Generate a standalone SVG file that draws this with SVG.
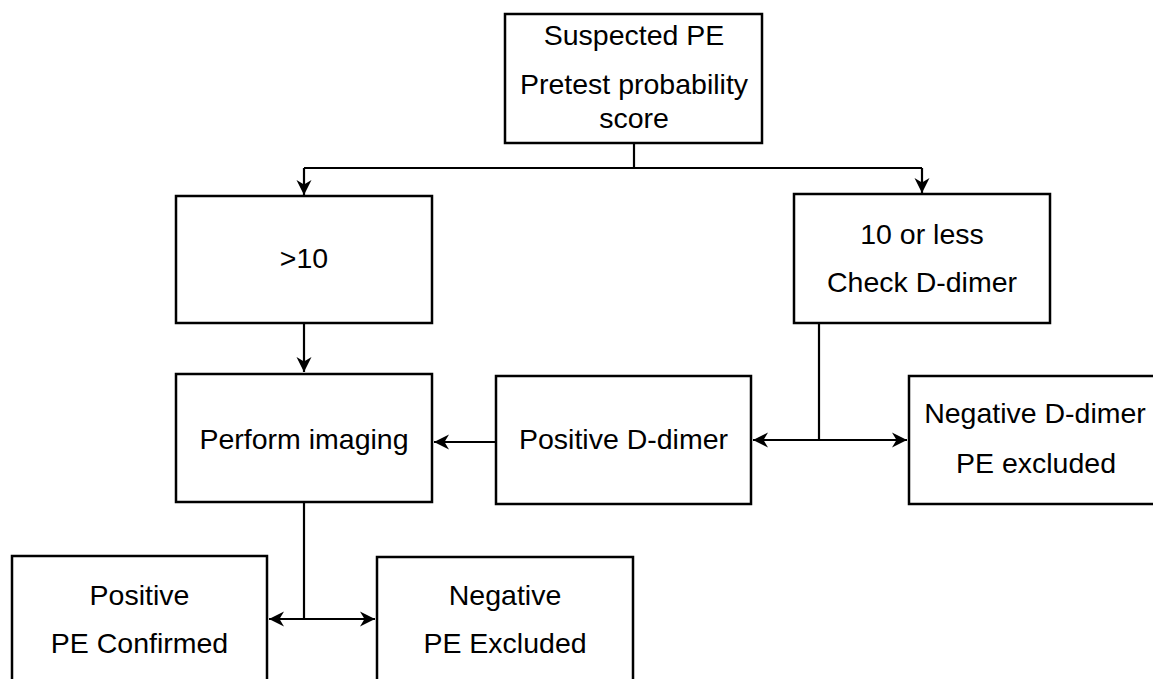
<svg xmlns="http://www.w3.org/2000/svg" width="1153" height="679" viewBox="0 0 1153 679">
<style>
  .box { fill: #ffffff; stroke: #000000; stroke-width: 2.5; }
  .lbl { font-family: "Liberation Sans", Arial, sans-serif; font-size: 28.5px; fill: #000000; text-anchor: middle; }
  .con { fill: none; stroke: #000000; stroke-width: 2.2; }
</style>
<defs>
  <marker id="arr" markerUnits="userSpaceOnUse" markerWidth="17" markerHeight="16" refX="15" refY="7.5" orient="auto" viewBox="0 0 17 15">
    <path d="M0,0 L15,7.5 L0,15 L4.5,7.5 Z" fill="#000000"/>
  </marker>
</defs>
<rect width="1153" height="679" fill="#ffffff"/>

<g id="connectors">
  <path class="con" d="M634,143 V168"/>
  <path class="con" d="M304,168 H922"/>
  <path class="con" d="M304,168 V195" marker-end="url(#arr)"/>
  <path class="con" d="M922,168 V193" marker-end="url(#arr)"/>
  <path class="con" d="M304,323 V372" marker-end="url(#arr)"/>
  <path class="con" d="M819,323 V440"/>
  <path class="con" d="M819,440 H753" marker-end="url(#arr)"/>
  <path class="con" d="M819,440 H907" marker-end="url(#arr)"/>
  <path class="con" d="M496,442 H434" marker-end="url(#arr)"/>
  <path class="con" d="M304,502 V619"/>
  <path class="con" d="M304,619 H269" marker-end="url(#arr)"/>
  <path class="con" d="M304,619 H375" marker-end="url(#arr)"/>
</g>

<g id="node-suspected">
  <rect class="box" x="505" y="14" width="257" height="129"/>
  <text class="lbl" x="634" y="45">Suspected PE</text>
  <text class="lbl" x="634" y="94">Pretest probability</text>
  <text class="lbl" x="634" y="128">score</text>
</g>

<g id="node-gt10">
  <rect class="box" x="176" y="196" width="256" height="127"/>
  <text class="lbl" x="304" y="268">&gt;10</text>
</g>

<g id="node-le10">
  <rect class="box" x="794" y="194" width="256" height="129"/>
  <text class="lbl" x="922" y="244">10 or less</text>
  <text class="lbl" x="922" y="292">Check D-dimer</text>
</g>

<g id="node-imaging">
  <rect class="box" x="176" y="374" width="256" height="128"/>
  <text class="lbl" x="304" y="449">Perform imaging</text>
</g>

<g id="node-posdimer">
  <rect class="box" x="496" y="376" width="255" height="128"/>
  <text class="lbl" x="623.5" y="449">Positive D-dimer</text>
</g>

<g id="node-negdimer">
  <rect class="box" x="909" y="376" width="256" height="128"/>
  <text class="lbl" x="1035" y="423">Negative D-dimer</text>
  <text class="lbl" x="1036" y="473">PE excluded</text>
</g>

<g id="node-positive">
  <rect class="box" x="12" y="556" width="255" height="140"/>
  <text class="lbl" x="139.5" y="605">Positive</text>
  <text class="lbl" x="139.5" y="653">PE Confirmed</text>
</g>

<g id="node-negative">
  <rect class="box" x="377" y="557" width="256" height="140"/>
  <text class="lbl" x="505" y="605">Negative</text>
  <text class="lbl" x="505" y="653">PE Excluded</text>
</g>
</svg>
